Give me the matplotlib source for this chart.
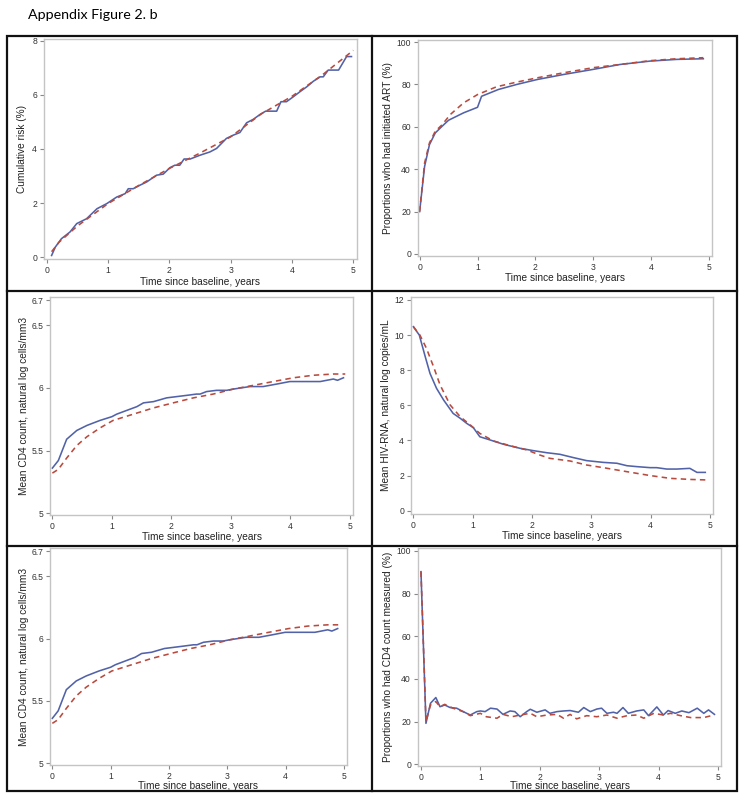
import matplotlib
matplotlib.use("Agg")
import matplotlib.pyplot as plt
from matplotlib.patches import Rectangle
from matplotlib.lines import Line2D

plt.rcParams['font.family'] = ['Liberation Sans', 'DejaVu Sans']

W, H = 745, 805
BLUE = '#5162a8'
RED = '#b84a3e'

# cumulative risk (%)
risk_t = [0.08, 0.14, 0.24, 0.38, 0.49, 0.65, 0.82, 0.98, 1.14, 1.28, 1.33, 1.41, 1.52, 1.63, 1.79,
          1.90, 2.01, 2.09, 2.17, 2.24, 2.34, 2.50, 2.66, 2.77, 2.93, 3.04, 3.15, 3.26, 3.37, 3.48,
          3.57, 3.75, 3.82, 3.91, 4.02, 4.13, 4.24, 4.35, 4.46, 4.51, 4.59, 4.76, 4.89, 4.97]
risk_obs = [0.06, 0.37, 0.68, 0.93, 1.24, 1.42, 1.79, 1.98, 2.22, 2.35, 2.53, 2.53, 2.66, 2.78, 3.03,
            3.07, 3.31, 3.40, 3.40, 3.63, 3.63, 3.77, 3.89, 4.02, 4.39, 4.51, 4.61, 4.97, 5.10, 5.28,
            5.40, 5.40, 5.75, 5.75, 5.93, 6.12, 6.30, 6.51, 6.67, 6.67, 6.92, 6.92, 7.42, 7.42]
risk_pred_t = [0.08, 0.2, 0.5, 1.0, 1.5, 2.0, 2.5, 3.0, 3.5, 4.0, 4.5, 5.0]
risk_pred = [0.2, 0.55, 1.15, 1.98, 2.65, 3.28, 3.85, 4.45, 5.3, 5.95, 6.75, 7.65]

# initiated ART (%)
art_t = [0, 0.086, 0.17, 0.27, 0.39, 0.5, 0.76, 1.0, 1.07, 1.36, 1.68, 2.03, 2.49, 3.0, 3.46, 3.98, 4.44, 4.9]
art_obs = [20, 41.3, 51.6, 57.1, 60.3, 63.1, 66.6, 69.2, 74.4, 77.6, 80.0, 82.3, 84.7, 87.1, 89.4, 91.0, 91.8, 92.1]
art_pred_t = [0, 0.086, 0.17, 0.27, 0.39, 0.53, 0.76, 1.0, 1.33, 1.68, 2.03, 2.49, 3.0, 3.46, 3.98, 4.44, 4.9]
art_pred = [20, 42.9, 52.4, 57.9, 61.0, 65.8, 71.3, 75.2, 78.9, 81.1, 83.1, 85.5, 87.9, 89.4, 91.2, 92.1, 92.6]

# mean CD4 (log)
cd4_t = [0, 0.1, 0.24, 0.41, 0.58, 0.8, 1.0, 1.08, 1.25, 1.42, 1.53, 1.70, 1.92, 2.09, 2.26,
         2.42, 2.48, 2.59, 2.76, 2.93, 3.04, 3.32, 3.54, 3.77, 3.99, 4.27, 4.5, 4.72, 4.79, 4.89]
cd4_obs = [5.36, 5.42, 5.59, 5.66, 5.70, 5.74, 5.77, 5.79, 5.82, 5.85, 5.88, 5.89, 5.92, 5.93, 5.94,
           5.95, 5.95, 5.97, 5.98, 5.98, 5.99, 6.01, 6.01, 6.03, 6.05, 6.05, 6.05, 6.07, 6.06, 6.08]
cd4_pred_t = [0, 0.1, 0.24, 0.41, 0.58, 0.8, 1.02, 1.36, 1.70, 2.03, 2.37, 2.70, 3.04, 3.38, 3.71,
              4.05, 4.38, 4.72, 4.92]
cd4_pred = [5.32, 5.35, 5.44, 5.54, 5.61, 5.68, 5.74, 5.79, 5.84, 5.88, 5.92, 5.95, 5.99, 6.02, 6.05,
            6.08, 6.10, 6.11, 6.11]

# mean HIV-RNA (log)
rna_t = [0, 0.1, 0.2, 0.28, 0.39, 0.51, 0.67, 0.79, 0.9, 1.01, 1.12, 1.29, 1.52, 1.8, 2.02,
         2.25, 2.47, 2.7, 2.92, 3.2, 3.43, 3.6, 3.76, 3.99, 4.1, 4.27, 4.44, 4.66, 4.78, 4.92]
rna_obs = [10.48, 10.0, 8.77, 7.82, 6.97, 6.30, 5.54, 5.26, 4.97, 4.73, 4.21, 4.03, 3.78, 3.55, 3.42,
           3.30, 3.21, 3.02, 2.85, 2.75, 2.70, 2.56, 2.51, 2.45, 2.45, 2.37, 2.37, 2.41, 2.18, 2.18]
rna_pred_t = [0, 0.11, 0.22, 0.34, 0.45, 0.62, 0.79, 0.96, 1.12, 1.35, 1.63, 1.91, 2.13, 2.3, 2.64,
              2.92, 3.2, 3.6, 3.99, 4.33, 4.66, 4.94]
rna_pred = [10.48, 10.0, 9.25, 8.2, 7.16, 6.02, 5.35, 4.88, 4.40, 3.97, 3.70, 3.46, 3.17, 2.98, 2.83,
            2.60, 2.45, 2.22, 2.0, 1.84, 1.78, 1.75]

# CD4 count measured (%)
meas_t = [0, 0.084, 0.16, 0.25, 0.32, 0.4, 0.49, 0.6, 0.71, 0.83, 0.94, 1.0, 1.08, 1.17, 1.28, 1.38,
          1.5, 1.58, 1.67, 1.78, 1.84, 1.95, 2.09, 2.17, 2.29, 2.4, 2.51, 2.65, 2.74, 2.85, 2.96, 3.04,
          3.13, 3.24, 3.3, 3.4, 3.49, 3.63, 3.75, 3.83, 3.97, 4.08, 4.16, 4.28, 4.39, 4.51, 4.65, 4.76,
          4.84, 4.94]
meas_obs = [90.3, 19.2, 28.6, 31.3, 27.0, 27.8, 26.6, 26.3, 24.7, 23.1, 24.7, 25.0, 24.7, 26.3, 25.9,
            23.4, 25.0, 24.7, 22.3, 24.7, 25.8, 24.4, 25.5, 23.9, 24.7, 25.0, 25.2, 24.4, 26.6, 24.7,
            25.9, 26.3, 23.9, 24.4, 23.9, 26.6, 23.9, 25.0, 25.5, 22.8, 26.9, 23.1, 25.2, 23.9, 25.0,
            24.2, 26.3, 23.9, 25.5, 23.4]
meas_pred_t = [0, 0.084, 0.16, 0.25, 0.32, 0.4, 0.54, 0.71, 0.83, 1.0, 1.1, 1.28, 1.38, 1.53, 1.67,
               1.84, 1.95, 2.12, 2.29, 2.4, 2.51, 2.62, 2.79, 2.96, 3.13, 3.3, 3.47, 3.63, 3.75, 3.92,
               4.08, 4.2, 4.37, 4.54, 4.76, 4.93]
meas_pred = [90.3, 20.0, 27.8, 29.4, 27.0, 28.1, 26.3, 24.7, 22.8, 23.9, 22.3, 21.6, 23.4, 22.3, 23.1,
             23.9, 22.3, 23.1, 23.4, 21.6, 23.4, 21.3, 22.8, 22.3, 23.1, 21.6, 22.8, 23.1, 21.6, 23.9,
             23.1, 23.9, 22.8, 21.9, 21.9, 23.1]

cd4_ticks = [5, 5.5, 6, 6.5, 6.7]
cd4_labels = ['5', '5.5', '6', '6.5', '6.7']


def box(l, t, r, b):
    return [l / W, 1 - b / H, (r - l) / W, (b - t) / H]


def panel(fig, rect, xlim, ylim, t1, y1, t2, y2, ylabel, yticks, ylab_x, xlab_y, ylabels=None):
    l, t, r, b = rect
    ax = fig.add_axes(box(*rect))
    ax.plot(t1, y1, color=BLUE, lw=1.15)
    ax.plot(t2, y2, color=RED, lw=1.15, dashes=(3.4, 2.6))
    ax.set_xlim(*xlim)
    ax.set_ylim(*ylim)
    ax.set_xticks(range(6))
    ax.set_yticks(yticks)
    if ylabels:
        ax.set_yticklabels(ylabels)
    for s in ax.spines.values():
        s.set_color('#c4c4c4')
        s.set_linewidth(1.0)
    ax.tick_params(length=3, width=0.8, color='#888888', labelsize=6.2,
                   labelcolor='#333333', pad=2)
    ax.set_xlabel('Time since baseline, years', fontsize=7.3, color='#222222')
    ax.set_ylabel(ylabel, fontsize=7.3, color='#222222')
    ax.xaxis.set_label_coords(((l + r) / 2) / W, 1 - xlab_y / H, transform=fig.transFigure)
    ax.yaxis.set_label_coords(ylab_x / W, 1 - ((t + b) / 2) / H, transform=fig.transFigure)
    ax.xaxis.label.set_va('center')
    ax.yaxis.label.set_va('center')
    return ax


fig = plt.figure(figsize=(W / 100, H / 100), dpi=100)

fig.text(28 / W, 1 - 15 / H, 'Appendix Figure 2. b', fontsize=10.3, va='center', ha='left',
         family=['Lato', 'DejaVu Sans'])

# table frame
fig.add_artist(Rectangle((7 / W, 1 - 791 / H), 730 / W, 755 / H, transform=fig.transFigure,
                         fill=False, ec='#111111', lw=1.6))
fig.add_artist(Line2D([372 / W, 372 / W], [1 - 36 / H, 1 - 791 / H], transform=fig.transFigure,
                      color='#111111', lw=1.6))
for yy in [291, 546]:
    fig.add_artist(Line2D([7 / W, 737 / W], [1 - yy / H, 1 - yy / H], transform=fig.transFigure,
                          color='#111111', lw=1.6))

panel(fig, (44, 39, 357, 259), (-0.044, 5.06), (-0.07, 8.07), risk_t, risk_obs, risk_pred_t, risk_pred,
      'Cumulative risk (%)', [0, 2, 4, 6, 8], 22, 282)
panel(fig, (418, 40, 712, 256), (-0.028, 5.05), (-0.95, 100.95), art_t, art_obs, art_pred_t, art_pred,
      'Proportions who had initiated ART (%)', [0, 20, 40, 60, 80, 100], 388, 278)
panel(fig, (50, 297, 353, 515), (-0.04, 5.05), (4.986, 6.724), cd4_t, cd4_obs, cd4_pred_t, cd4_pred,
      'Mean CD4 count, natural log cells/mm3', cd4_ticks, 24, 537, cd4_labels)
panel(fig, (411, 297, 713, 514), (-0.04, 5.05), (-0.19, 12.17), rna_t, rna_obs, rna_pred_t, rna_pred,
      'Mean HIV-RNA, natural log copies/mL', [0, 2, 4, 6, 8, 10, 12], 386, 536)
panel(fig, (50, 548, 347, 765), (-0.04, 5.05), (4.986, 6.726), cd4_t, cd4_obs, cd4_pred_t, cd4_pred,
      'Mean CD4 count, natural log cells/mm3', cd4_ticks, 24, 786, cd4_labels)
panel(fig, (418, 548, 721, 766), (-0.05, 5.05), (-0.8, 101.4), meas_t, meas_obs, meas_pred_t, meas_pred,
      'Proportions who had CD4 count measured (%)', [0, 20, 40, 60, 80, 100], 388, 786)

fig.savefig('out.png', dpi=100)
